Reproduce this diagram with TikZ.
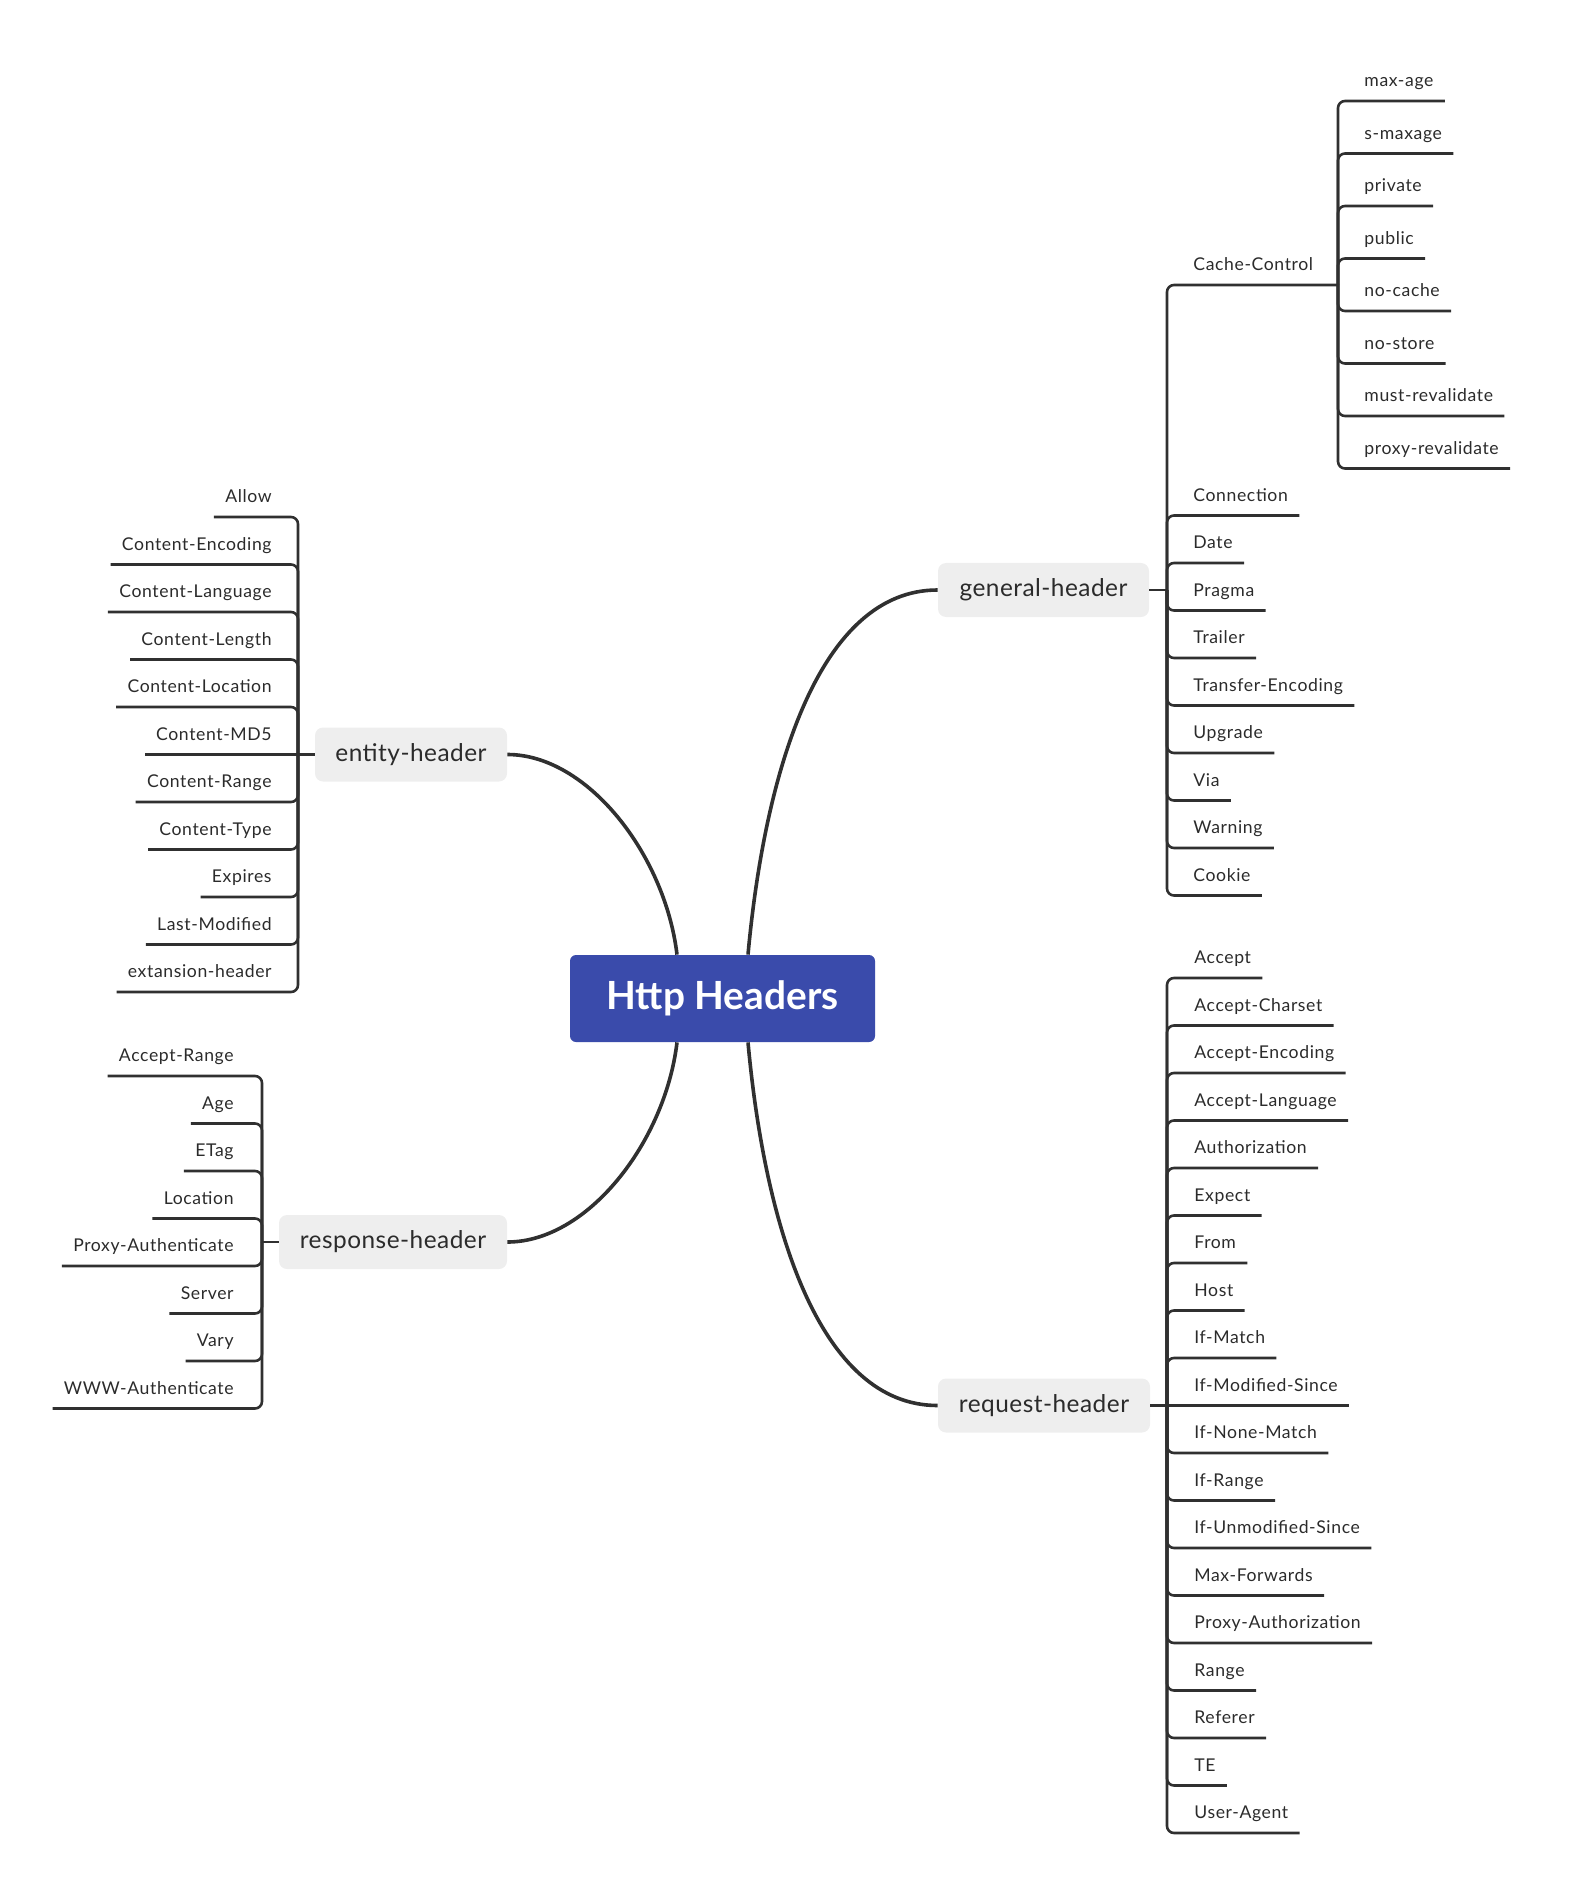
\documentclass[tikz,border=0pt]{standalone}
\usepackage{fontspec}
\setmainfont{Lato}
\newfontfamily\leaffont[LetterSpace=3.5]{Lato}
\newfontfamily\headfont[LetterSpace=2]{Lato}
\usepackage{tikz}
\usetikzlibrary{positioning}

\definecolor{rootblue}{HTML}{3A4BAB}
\definecolor{headgray}{HTML}{EEEEEE}
\definecolor{linegray}{HTML}{303030}
\definecolor{textgray}{HTML}{2B2B2B}

\tikzset{
  rootbox/.style={fill=rootblue, rounded corners=3pt, text=white,
    font=\fontsize{19.4}{22}\selectfont\bfseries,
    minimum width=152.5pt, minimum height=43.5pt},
  headbox/.style={fill=headgray, rounded corners=4pt, text=textgray,
    font=\headfont\fontsize{12.2}{14}\selectfont, minimum height=27pt},
  leafR/.style={anchor=south west, inner xsep=5.5pt, inner ysep=7pt,
    text depth=0pt, text=textgray, font=\leaffont\fontsize{8.8}{10}\selectfont},
  leafL/.style={leafR, anchor=south east},
  twig/.style={draw=linegray, line width=1.3pt, rounded corners=3.5pt},
  limb/.style={draw=linegray, line width=1.8pt}
}

\begin{document}
\begin{tikzpicture}[x=0.5pt,y=-0.5pt]
    \useasboundingbox (0,0) rectangle (1573,1898);

    % Central topic
    \node[rootbox] (root) at (722.5,998.5) {Http Headers};

    % Main branches
    \node[headbox, minimum width=105.5pt] (general) at (1043.5,590) {general-header};
    \node[headbox, minimum width=96pt] (entity) at (411,754.5) {entity-header};
    \node[headbox, minimum width=114pt] (response) at (393,1242) {response-header};
    \node[headbox, minimum width=106pt] (request) at (1044,1405.5) {request-header};

    % Curves from the central topic
    \draw[limb] ([xshift=12.75pt]root.north) .. controls +(17,-185) and +(-118,0) .. (general.west);
    \draw[limb] ([xshift=-22.75pt]root.north) .. controls +(-12,-100) and +(80,0) .. (entity.east);
    \draw[limb] ([xshift=-22.75pt]root.south) .. controls +(-12,100) and +(80,0) .. (response.east);
    \draw[limb] ([xshift=12.75pt]root.south) .. controls +(17,185) and +(-118,0) .. (request.west);

    % Hubs
    \coordinate (gHub) at (1167,590);
    \coordinate (ccHub) at (1338,285);
    \coordinate (eHub) at (298,754.5);
    \coordinate (rHub) at (262,1242);
    \coordinate (qHub) at (1167,1405.5);

    % general-header
    \node[leafR] (gCacheControl) at (1182,285) {Cache-Control};
    \node[leafR] (gConnection) at (1182,515.5) {Connection};
    \node[leafR] (gDate) at (1182,563) {Date};
    \node[leafR] (gPragma) at (1182,610.5) {Pragma};
    \node[leafR] (gTrailer) at (1182,658) {Trailer};
    \node[leafR] (gTransferEncoding) at (1182,705.5) {Transfer-Encoding};
    \node[leafR] (gUpgrade) at (1182,753) {Upgrade};
    \node[leafR] (gVia) at (1182,800.5) {Via};
    \node[leafR] (gWarning) at (1182,848) {Warning};
    \node[leafR] (gCookie) at (1182,895.5) {Cookie};

    \draw[twig] (general.east) -- (gHub);
    \draw[twig] (gHub) |- (ccHub);
    \draw[twig] (gHub) |- (gConnection.south east);
    \draw[twig] (gHub) |- (gDate.south east);
    \draw[twig] (gHub) |- (gPragma.south east);
    \draw[twig] (gHub) |- (gTrailer.south east);
    \draw[twig] (gHub) |- (gTransferEncoding.south east);
    \draw[twig] (gHub) |- (gUpgrade.south east);
    \draw[twig] (gHub) |- (gVia.south east);
    \draw[twig] (gHub) |- (gWarning.south east);
    \draw[twig] (gHub) |- (gCookie.south east);

    % Cache-Control
    \node[leafR] (cMaxAge) at (1353,101) {max-age};
    \node[leafR] (cSMaxage) at (1353,153.5) {s-maxage};
    \node[leafR] (cPrivate) at (1353,206) {private};
    \node[leafR] (cPublic) at (1353,258.5) {public};
    \node[leafR] (cNoCache) at (1353,311) {no-cache};
    \node[leafR] (cNoStore) at (1353,363.5) {no-store};
    \node[leafR] (cMustRevalidate) at (1353,416) {must-revalidate};
    \node[leafR] (cProxyRevalidate) at (1353,468.5) {proxy-revalidate};

    \draw[twig] (ccHub) |- (cMaxAge.south east);
    \draw[twig] (ccHub) |- (cSMaxage.south east);
    \draw[twig] (ccHub) |- (cPrivate.south east);
    \draw[twig] (ccHub) |- (cPublic.south east);
    \draw[twig] (ccHub) |- (cNoCache.south east);
    \draw[twig] (ccHub) |- (cNoStore.south east);
    \draw[twig] (ccHub) |- (cMustRevalidate.south east);
    \draw[twig] (ccHub) |- (cProxyRevalidate.south east);

    % entity-header
    \node[leafL] (eAllow) at (283,517) {Allow};
    \node[leafL] (eEncoding) at (283,564.5) {Content-Encoding};
    \node[leafL] (eLanguage) at (283,612) {Content-Language};
    \node[leafL] (eLength) at (283,659.5) {Content-Length};
    \node[leafL] (eLocation) at (283,707) {Content-Location};
    \node[leafL] (eMDfive) at (283,754.5) {Content-MD5};
    \node[leafL] (eRange) at (283,802) {Content-Range};
    \node[leafL] (eType) at (283,849.5) {Content-Type};
    \node[leafL] (eExpires) at (283,897) {Expires};
    \node[leafL] (eLastModified) at (283,944.5) {Last-Modified};
    \node[leafL] (eExtansion) at (283,992) {extansion-header};

    \draw[twig] (entity.west) -- (eHub);
    \draw[twig] (eHub) |- (eAllow.south west);
    \draw[twig] (eHub) |- (eEncoding.south west);
    \draw[twig] (eHub) |- (eLanguage.south west);
    \draw[twig] (eHub) |- (eLength.south west);
    \draw[twig] (eHub) |- (eLocation.south west);
    \draw[twig] (eHub) -- (eMDfive.south west);
    \draw[twig] (eHub) |- (eRange.south west);
    \draw[twig] (eHub) |- (eType.south west);
    \draw[twig] (eHub) |- (eExpires.south west);
    \draw[twig] (eHub) |- (eLastModified.south west);
    \draw[twig] (eHub) |- (eExtansion.south west);

    % response-header
    \node[leafL] (rAcceptRange) at (245,1076) {Accept-Range};
    \node[leafL] (rAge) at (245,1123.5) {Age};
    \node[leafL] (rETag) at (245,1171) {ETag};
    \node[leafL] (rLocation) at (245,1218.5) {Location};
    \node[leafL] (rProxyAuth) at (245,1266) {Proxy-Authenticate};
    \node[leafL] (rServer) at (245,1313.5) {Server};
    \node[leafL] (rVary) at (245,1361) {Vary};
    \node[leafL] (rWWWAuth) at (245,1408.5) {WWW-Authenticate};

    \draw[twig] (response.west) -- (rHub);
    \draw[twig] (rHub) |- (rAcceptRange.south west);
    \draw[twig] (rHub) |- (rAge.south west);
    \draw[twig] (rHub) |- (rETag.south west);
    \draw[twig] (rHub) |- (rLocation.south west);
    \draw[twig] (rHub) |- (rProxyAuth.south west);
    \draw[twig] (rHub) |- (rServer.south west);
    \draw[twig] (rHub) |- (rVary.south west);
    \draw[twig] (rHub) |- (rWWWAuth.south west);

    % request-header
    \node[leafR] (qAccept) at (1183,978) {Accept};
    \node[leafR] (qCharset) at (1183,1025.5) {Accept-Charset};
    \node[leafR] (qEncoding) at (1183,1073) {Accept-Encoding};
    \node[leafR] (qLanguage) at (1183,1120.5) {Accept-Language};
    \node[leafR] (qAuthorization) at (1183,1168) {Authorization};
    \node[leafR] (qExpect) at (1183,1215.5) {Expect};
    \node[leafR] (qFrom) at (1183,1263) {From};
    \node[leafR] (qHost) at (1183,1310.5) {Host};
    \node[leafR] (qIfMatch) at (1183,1358) {If-Match};
    \node[leafR] (qIfModified) at (1183,1405.5) {If-Modified-Since};
    \node[leafR] (qIfNoneMatch) at (1183,1453) {If-None-Match};
    \node[leafR] (qIfRange) at (1183,1500.5) {If-Range};
    \node[leafR] (qIfUnmodified) at (1183,1548) {If-Unmodified-Since};
    \node[leafR] (qMaxForwards) at (1183,1595.5) {Max-Forwards};
    \node[leafR] (qProxyAuth) at (1183,1643) {Proxy-Authorization};
    \node[leafR] (qRange) at (1183,1690.5) {Range};
    \node[leafR] (qReferer) at (1183,1738) {Referer};
    \node[leafR] (qTE) at (1183,1785.5) {TE};
    \node[leafR] (qUserAgent) at (1183,1833) {User-Agent};

    \draw[twig] (request.east) -- (qHub);
    \draw[twig] (qHub) |- (qAccept.south east);
    \draw[twig] (qHub) |- (qCharset.south east);
    \draw[twig] (qHub) |- (qEncoding.south east);
    \draw[twig] (qHub) |- (qLanguage.south east);
    \draw[twig] (qHub) |- (qAuthorization.south east);
    \draw[twig] (qHub) |- (qExpect.south east);
    \draw[twig] (qHub) |- (qFrom.south east);
    \draw[twig] (qHub) |- (qHost.south east);
    \draw[twig] (qHub) |- (qIfMatch.south east);
    \draw[twig] (qHub) -- (qIfModified.south east);
    \draw[twig] (qHub) |- (qIfNoneMatch.south east);
    \draw[twig] (qHub) |- (qIfRange.south east);
    \draw[twig] (qHub) |- (qIfUnmodified.south east);
    \draw[twig] (qHub) |- (qMaxForwards.south east);
    \draw[twig] (qHub) |- (qProxyAuth.south east);
    \draw[twig] (qHub) |- (qRange.south east);
    \draw[twig] (qHub) |- (qReferer.south east);
    \draw[twig] (qHub) |- (qTE.south east);
    \draw[twig] (qHub) |- (qUserAgent.south east);
\end{tikzpicture}
\end{document}
